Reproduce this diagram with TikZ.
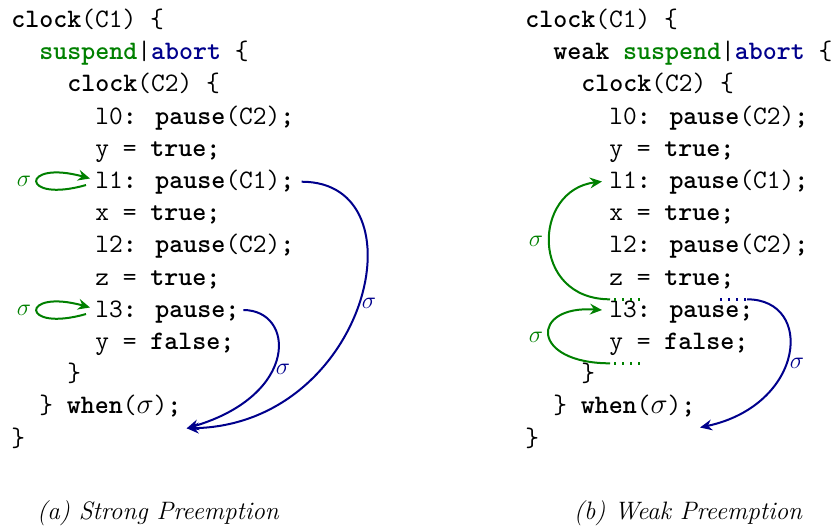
\documentclass[tikz,border=0pt]{standalone}
\usetikzlibrary{arrows.meta}

\definecolor{kwgreen}{RGB}{0,128,0}
\definecolor{kwblue}{RGB}{0,0,140}
\newcommand{\kw}[1]{\textbf{#1}}
\newcommand{\susp}{\textcolor{kwgreen}{\kw{suspend}}}
\newcommand{\abrt}{\textcolor{kwblue}{\kw{abort}}}

\tikzset{
  codeline/.style={anchor=base west, inner sep=0pt,
    font=\fontsize{13.33}{16}\selectfont\ttfamily},
  flow/.style={line width=1pt,
    -{Stealth[length=6pt,width=5.4pt,inset=2pt]}},
  suspflow/.style={flow, kwgreen},
  abortflow/.style={flow, kwblue},
  stub/.style={line width=1.2pt, dash pattern=on 1.2pt off 2.8pt},
  siglabel/.style={inner sep=0pt, font=\fontsize{12}{14}\selectfont},
  caption/.style={anchor=base, inner sep=0pt,
    font=\fontsize{12.6}{15}\selectfont\itshape},
}

\begin{document}
\begin{tikzpicture}[x=0.5pt,y=-0.5pt]
\useasboundingbox (0,0) rectangle (835,527);

% ---------- (a) strong preemption: program text ----------
\node[codeline] (a0)  at (11,27.5)  {\kw{clock}(C1) \{};
\node[codeline] (a1)  at (39,59.7)  {\susp|\abrt\ \{};
\node[codeline] (a2)  at (67,91.9)  {\kw{clock}(C2) \{};
\node[codeline] (a3)  at (95,124.1) {l0\kw{: pause}(C2)\kw{;}};
\node[codeline] (a4)  at (95,156.3) {y = \kw{true;}};
\node[codeline] (a5)  at (95,188.5) {l1\kw{: pause}(C1)\kw{;}};
\node[codeline] (a6)  at (95,220.7) {x = \kw{true;}};
\node[codeline] (a7)  at (95,252.9) {l2\kw{: pause}(C2)\kw{;}};
\node[codeline] (a8)  at (95,285.1) {z = \kw{true;}};
\node[codeline] (a9)  at (95,317.3) {l3\kw{: pause;}};
\node[codeline] (a10) at (95,349.5) {y = \kw{false;}};
\node[codeline] (a11) at (67,381.7) {\}};
\node[codeline] (a12) at (39,413.9) {\} \kw{when}($\sigma$)\kw{;}};
\node[codeline] (a13) at (11,446.1) {\}};

% suspension loops back onto the pauses
\coordinate (sA1from) at (86,185);
\coordinate (sA1to)   at (90,178.5);
\draw[suspflow] (sA1from) .. controls (20,204) and (20,159) .. (sA1to);
\node[siglabel, text=kwgreen] (sgA1) at (24,181) {$\sigma$};

\coordinate (sA2from) at (86,314);
\coordinate (sA2to)   at (90,307.5);
\draw[suspflow] (sA2from) .. controls (20,333) and (20,288) .. (sA2to);
\node[siglabel, text=kwgreen] (sgA2) at (24,310) {$\sigma$};

% abortion jumps to the end of the block
\coordinate (abA1) at (301.7,181.7);
\coordinate (abA2) at (243.3,310);
\coordinate (abAend) at (186.7,428.3);
\draw[abortflow] (abA1) .. controls (425,181.7) and (368,425) .. (abAend);
\draw[abortflow] (abA2) .. controls (295,310) and (300,395) .. (abAend);
\node[siglabel, text=kwblue] (sgA3) at (369,303) {$\sigma$};
\node[siglabel, text=kwblue] (sgA4) at (283,369) {$\sigma$};

% ---------- (b) weak preemption: program text ----------
\node[codeline] (b0)  at (525,27.5)  {\kw{clock}(C1) \{};
\node[codeline] (b1)  at (553,59.7)  {\kw{weak} \susp|\abrt\ \{};
\node[codeline] (b2)  at (581,91.9)  {\kw{clock}(C2) \{};
\node[codeline] (b3)  at (609,124.1) {l0\kw{: pause}(C2)\kw{;}};
\node[codeline] (b4)  at (609,156.3) {y = \kw{true;}};
\node[codeline] (b5)  at (609,188.5) {l1\kw{: pause}(C1)\kw{;}};
\node[codeline] (b6)  at (609,220.7) {x = \kw{true;}};
\node[codeline] (b7)  at (609,252.9) {l2\kw{: pause}(C2)\kw{;}};
\node[codeline] (b8)  at (609,285.1) {z = \kw{true;}};
\node[codeline] (b9)  at (609,317.3) {l3\kw{: pause;}};
\node[codeline] (b10) at (609,349.5) {y = \kw{false;}};
\node[codeline] (b11) at (581,381.7) {\}};
\node[codeline] (b12) at (553,413.9) {\} \kw{when}($\sigma$)\kw{;}};
\node[codeline] (b13) at (525,446.1) {\}};

% suspension after the instant: resume at the pause
\coordinate (sB1dot) at (642,299.3);
\coordinate (sB1gap) at (614,299.3);
\coordinate (sB1from) at (610,299.3);
\coordinate (sB1to) at (602,181.5);
\draw[stub, kwgreen] (sB1gap) -- (sB1dot);
\draw[suspflow] (sB1from) .. controls (530,299.3) and (532,190) .. (sB1to);
\node[siglabel, text=kwgreen] (sgB1) at (536,241) {$\sigma$};

\coordinate (sB2dot) at (642,363.3);
\coordinate (sB2gap) at (614,363.3);
\coordinate (sB2from) at (610,363.3);
\coordinate (sB2to) at (602,310);
\draw[stub, kwgreen] (sB2gap) -- (sB2dot);
\draw[suspflow] (sB2from) .. controls (530,363.3) and (530,305) .. (sB2to);
\node[siglabel, text=kwgreen] (sgB2) at (536,337) {$\sigma$};

% abortion after the instant
\coordinate (abBdot) at (720,299.3);
\coordinate (abBfrom) at (747,299.3);
\coordinate (abBend) at (700,427.5);
\draw[stub, kwblue] (abBdot) -- (abBfrom);
\draw[abortflow] (abBfrom) .. controls (815,299.3) and (805,405) .. (abBend);
\node[siglabel, text=kwblue] (sgB3) at (797,363) {$\sigma$};

% ---------- captions ----------
\node[caption] (capA) at (158,519) {(a) Strong Preemption};
\node[caption] (capB) at (688,519) {(b) Weak Preemption};
\end{tikzpicture}
\end{document}
